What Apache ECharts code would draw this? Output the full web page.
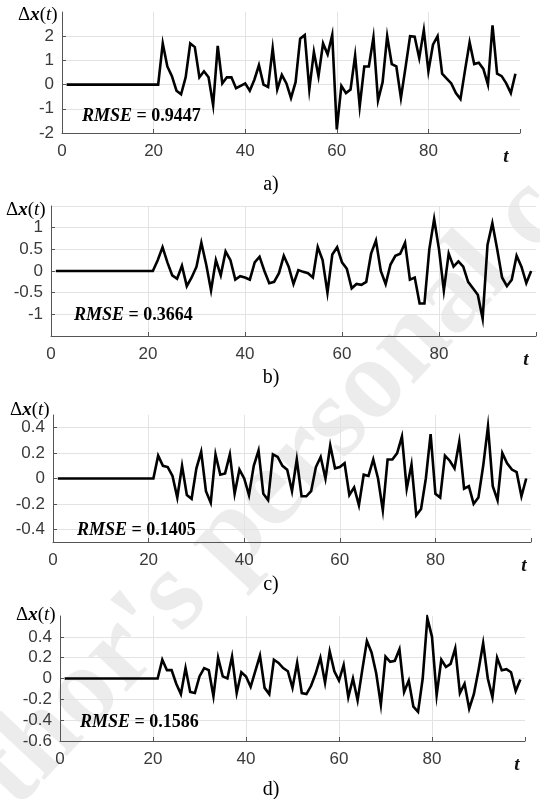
<!DOCTYPE html>
<html>
<head>
<meta charset="utf-8">
<title>Δx(t) error series</title>
<script src="https://cdn.jsdelivr.net/npm/echarts@6.0.0/dist/echarts.min.js"></script>
<style>
  html, body { margin: 0; padding: 0; background: #fff; }
  #chart { width: 540px; height: 799px; }
</style>
</head>
<body>
<div id="chart"></div>
<script>
// t = 1..21 is before the disturbance, error stays at zero
var lead = [0,0,0,0,0,0,0,0,0,0,0,0,0,0,0,0,0,0,0,0,0];

// t = 22..99
var dxA = lead.concat([
  1.7,0.75,0.35,-0.25,-0.4,0.3,1.7,1.55,0.3,0.55,
  0.3,-0.85,1.6,0.05,0.3,0.3,-0.15,-0.05,0.05,-0.25,
  0.2,0.8,0.0,-0.1,1.5,-0.2,0.4,0.05,-0.55,0.1,
  1.9,2.05,-0.2,1.35,0.35,1.7,1.25,2.05,-1.85,-0.05,
  -0.35,-0.2,1.2,-0.9,0.75,0.75,1.95,-0.65,0.1,2.0,
  0.85,0.75,-0.55,0.7,2.0,1.98,1.1,2.25,0.55,1.65,
  2.0,0.45,0.25,0.05,-0.35,-0.6,0.6,1.75,0.85,0.9,
  0.65,0.0,2.45,0.45,0.35,0.05,-0.35,0.45
]);
var dxB = lead.concat([
  0.25,0.55,0.2,-0.1,-0.18,0.12,-0.35,-0.15,0.1,0.65,
  0.15,-0.45,0.25,-0.1,0.45,0.25,-0.2,-0.12,-0.15,-0.2,
  0.2,0.33,0.0,-0.28,-0.25,-0.05,0.35,0.1,-0.3,0.02,
  -0.02,-0.05,-0.15,0.55,0.25,-0.5,0.38,0.55,0.2,0.05,
  -0.4,-0.3,-0.32,-0.25,0.4,0.7,0.0,-0.3,0.15,0.35,
  0.4,0.65,-0.2,-0.15,-0.75,-0.75,0.5,1.2,0.5,-0.45,
  0.4,0.1,0.22,0.1,-0.25,-0.4,-0.55,-1.1,0.6,1.1,
  0.5,-0.15,-0.35,-0.2,0.35,0.1,-0.28,0.0
]);
var dxC = lead.concat([
  0.18,0.1,0.09,0.02,-0.15,0.1,-0.13,-0.16,0.08,0.21,
  -0.1,-0.19,0.19,0.03,0.04,0.19,-0.12,0.07,0.0,-0.13,
  0.1,0.22,-0.12,-0.17,0.19,0.17,0.1,0.07,-0.1,0.15,
  -0.14,-0.14,-0.1,0.09,0.17,0.0,0.26,0.08,0.09,0.12,
  -0.13,-0.07,-0.21,0.03,0.02,0.15,0.0,-0.25,0.15,0.15,
  0.2,0.33,-0.08,0.11,-0.29,-0.24,0.0,0.35,-0.12,-0.15,
  0.18,0.14,0.08,0.29,-0.08,-0.06,-0.2,-0.15,0.1,0.41,
  -0.06,-0.17,0.2,0.12,0.07,0.05,-0.14,0.0
]);
var dxD = lead.concat([
  0.18,0.08,0.08,-0.05,-0.15,0.1,-0.13,-0.14,0.02,0.1,
  0.08,-0.17,0.2,0.02,0.0,0.21,-0.14,0.06,0.02,-0.08,
  0.07,0.22,-0.09,-0.15,0.18,0.15,0.1,0.07,-0.09,0.15,
  -0.14,-0.15,-0.07,0.05,0.2,-0.04,0.26,0.07,-0.02,0.13,
  -0.18,0.0,-0.21,0.08,0.36,0.25,0.05,-0.25,0.21,0.16,
  0.17,0.28,-0.13,-0.02,-0.27,-0.32,0.0,0.58,0.4,-0.16,
  0.18,0.11,0.14,0.29,-0.14,-0.05,-0.29,-0.15,0.08,0.34,
  0.0,-0.18,0.2,0.08,0.09,0.06,-0.12,-0.01
]);

var rmseText = ['0.9447', '0.3664', '0.1405', '0.1586'];
var captions = ['a)', 'b)', 'c)', 'd)'];
var yMin = [-2, -1.5, -0.5, -0.6];
var yMax = [3, 1.5, 0.5, 0.6];
var yStep = [1, 0.5, null, 0.2];

// layout of each panel (pixels)
var panels = [
  { left: 62, right: 20, top: 12,  height: 121, tPad: 28, lab: [18, 15],  rmse: [82, 116], cap: 185, hideMin: false, topLine: false },
  { left: 51, right: 4,  top: 206, height: 130, tPad: 20, lab: [6, 210],  rmse: [74, 315], cap: 378, hideMin: true,  topLine: true },
  { left: 53, right: 9,  top: 415, height: 127, tPad: 14, lab: [10, 410], rmse: [77, 530], cap: 585, hideMin: true,  topLine: false },
  { left: 60, right: 15, top: 616, height: 125, tPad: 16, lab: [16, 615], rmse: [80, 722], cap: 790, hideMin: false, topLine: false }
];

var allData = [dxA, dxB, dxC, dxD];

function toPairs (arr) {
  return arr.map(function (v, i) { return [i + 1, v] })
}

var chart = echarts.init(document.getElementById('chart'), null, { renderer: 'canvas' });

var grids = [], xAxes = [], yAxes = [], series = [], graphics = [];

// faint watermark across the page
graphics.push({
  type: 'text',
  x: 282, y: 482,
  rotation: 47 * Math.PI / 180,
  z: -10,
  silent: true,
  style: {
    text: "Author's personal copy",
    font: 'bold 114px "Liberation Serif"',
    fill: 'rgba(0,0,0,0.075)',
    align: 'center',
    verticalAlign: 'middle'
  }
});

panels.forEach(function (p, i) {
  grids.push({ left: p.left, right: p.right, top: p.top, height: p.height, containLabel: false });

  xAxes.push({
    type: 'value',
    gridIndex: i,
    min: 0,
    max: 100,
    interval: 20,
    axisLine: { show: true, onZero: false, lineStyle: { color: '#555', width: 1 } },
    axisTick: { show: true, inside: true, length: 4, lineStyle: { color: '#555' } },
    splitLine: { show: true, showMinLine: false, showMaxLine: false, lineStyle: { color: '#e3e3e3', width: 1 } },
    axisLabel: {
      color: '#3a3a3a',
      fontFamily: 'Liberation Sans',
      fontSize: 17,
      margin: 10,
      showMaxLabel: true,
      formatter: function (v) { return v === 100 ? '{t|t}' : String(v) },
      rich: {
        t: {
          fontFamily: 'Liberation Serif',
          fontStyle: 'italic',
          fontWeight: 'bold',
          fontSize: 19,
          color: '#111',
          padding: [5, p.tPad, 0, 0]
        }
      }
    }
  });

  var ya = {
    type: 'value',
    gridIndex: i,
    min: yMin[i],
    max: yMax[i],
    axisLine: { show: true, onZero: false, lineStyle: { color: '#555', width: 1 } },
    axisTick: { show: true, inside: true, length: 4, lineStyle: { color: '#555' } },
    splitLine: { show: true, showMinLine: false, showMaxLine: p.topLine, lineStyle: { color: '#e3e3e3', width: 1 } },
    axisLabel: {
      color: '#3a3a3a',
      fontFamily: 'Liberation Sans',
      fontSize: 17,
      margin: 8,
      showMinLabel: !p.hideMin,
      showMaxLabel: false
    }
  };
  if (yStep[i] !== null) {
    ya.interval = yStep[i];
  } else {
    ya.splitNumber = 5;
  }
  yAxes.push(ya);

  series.push({
    type: 'line',
    xAxisIndex: i,
    yAxisIndex: i,
    data: toPairs(allData[i]),
    showSymbol: false,
    symbol: 'none',
    lineStyle: { color: '#000', width: 2.6, join: 'miter' },
    z: 5
  });

  // y axis caption  Δx(t)
  graphics.push({
    type: 'text',
    x: p.lab[0],
    y: p.lab[1],
    z: 100,
    style: {
      text: '{d|Δ}{x|x}{p|(}{t|t}{p|)}',
      verticalAlign: 'middle',
      rich: {
        d: { fontFamily: 'Liberation Serif', fontSize: 19, fill: '#000' },
        x: { fontFamily: 'Liberation Serif', fontSize: 19, fontStyle: 'italic', fontWeight: 'bold', fill: '#000' },
        p: { fontFamily: 'Liberation Serif', fontSize: 19, fill: '#000' },
        t: { fontFamily: 'Liberation Serif', fontSize: 19, fontStyle: 'italic', fill: '#000' }
      }
    }
  });

  // RMSE note
  graphics.push({
    type: 'text',
    x: p.rmse[0],
    y: p.rmse[1],
    z: 100,
    style: {
      text: '{a|RMSE}{b| = ' + rmseText[i] + '}',
      verticalAlign: 'middle',
      rich: {
        a: { fontFamily: 'Liberation Serif', fontSize: 18, fontStyle: 'italic', fontWeight: 'bold', fill: '#000' },
        b: { fontFamily: 'Liberation Serif', fontSize: 18, fontWeight: 'bold', fill: '#000' }
      }
    }
  });

  // panel caption a) b) ...
  graphics.push({
    type: 'text',
    x: 271,
    y: p.cap,
    z: 100,
    style: {
      text: captions[i],
      font: '20px "Liberation Serif"',
      fill: '#000',
      align: 'center',
      verticalAlign: 'middle'
    }
  });
});

chart.setOption({
  animation: false,
  backgroundColor: '#fff',
  grid: grids,
  xAxis: xAxes,
  yAxis: yAxes,
  series: series,
  graphic: graphics
});
</script>
</body>
</html>
